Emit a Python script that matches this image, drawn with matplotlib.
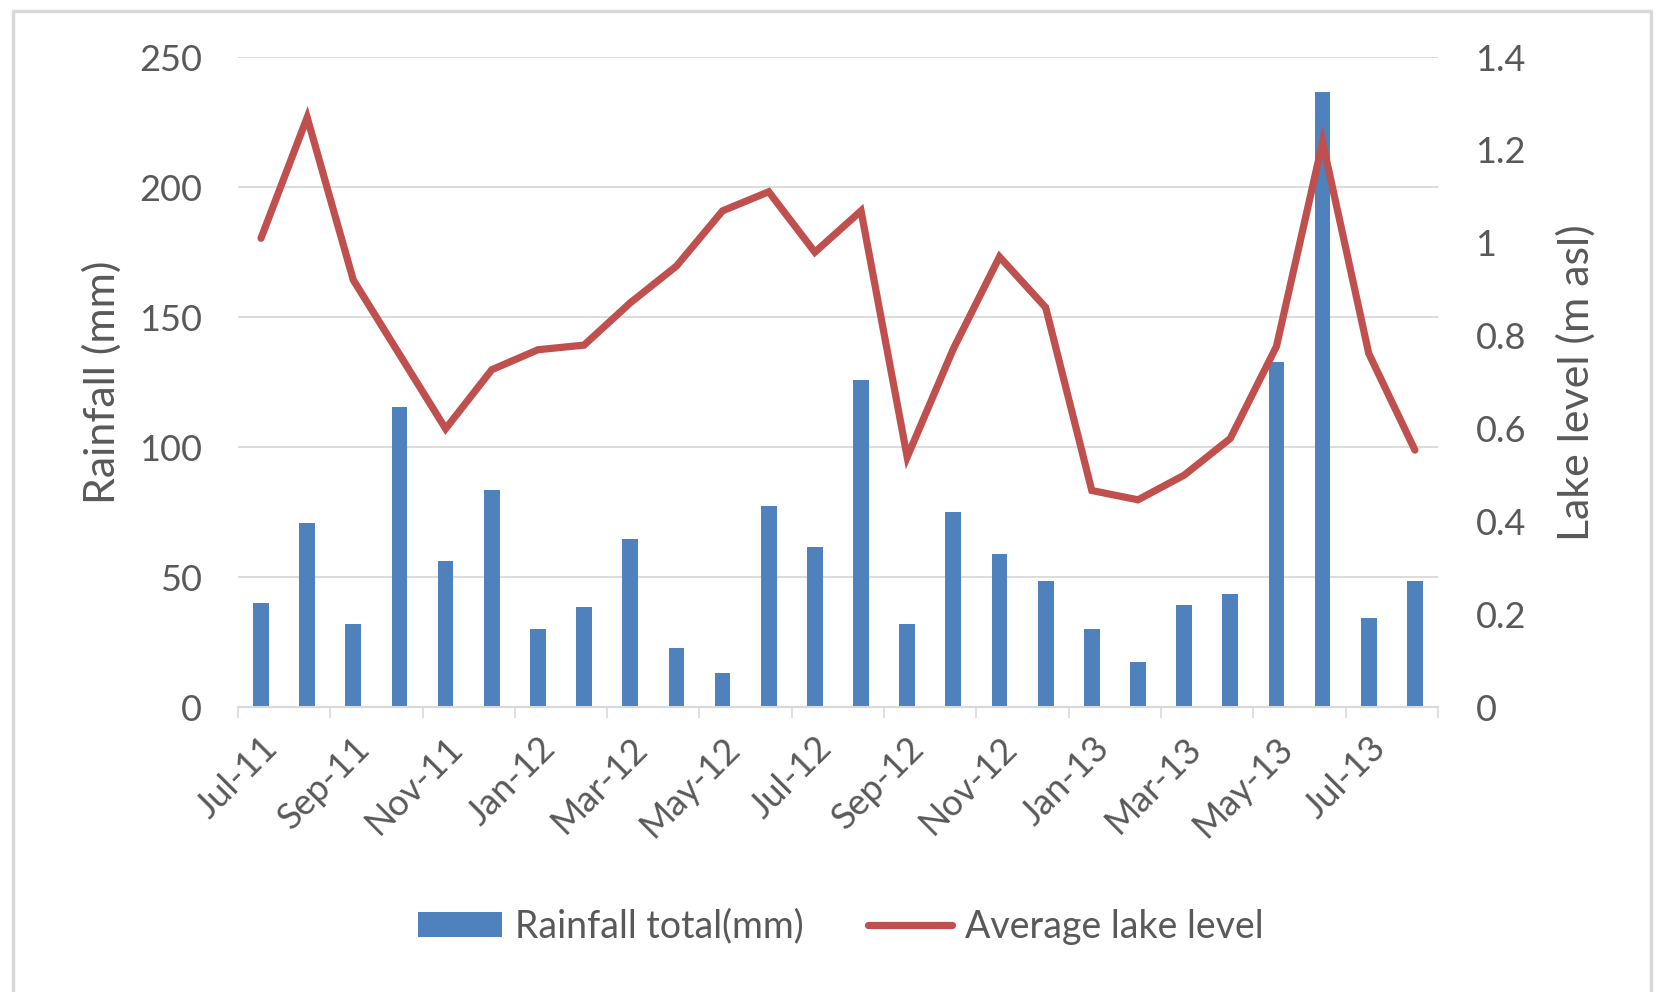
"""Rainfall totals (bars) and average lake level (line), Jul-11 to Aug-13."""

import matplotlib

matplotlib.use("Agg")
import matplotlib.pyplot as plt  # noqa: E402
import numpy as np  # noqa: E402

plt.rcParams["font.family"] = ["Lato", "DejaVu Sans"]

months = [
    "Jul-11", "Aug-11", "Sep-11", "Oct-11", "Nov-11", "Dec-11",
    "Jan-12", "Feb-12", "Mar-12", "Apr-12", "May-12", "Jun-12",
    "Jul-12", "Aug-12", "Sep-12", "Oct-12", "Nov-12", "Dec-12",
    "Jan-13", "Feb-13", "Mar-13", "Apr-13", "May-13", "Jun-13",
    "Jul-13", "Aug-13",
]
rainfall_mm = [
    40.3, 70.8, 32.0, 115.6, 56.4, 83.5,
    30.1, 38.7, 64.8, 22.7, 13.3, 77.5,
    61.7, 125.9, 32.0, 75.2, 59.0, 48.8,
    30.1, 17.6, 39.5, 43.8, 132.6, 236.7,
    34.4, 48.8,
]
lake_level = [
    1.01, 1.27, 0.92, 0.76, 0.60, 0.727,
    0.77, 0.78, 0.871, 0.95, 1.069, 1.11,
    0.98, 1.069, 0.539, 0.772, 0.97, 0.861,
    0.467, 0.447, 0.50, 0.579, 0.777, 1.217,
    0.762, 0.554,
]
left_ticks = [0, 50, 100, 150, 200, 250]
right_ticks = [0, 0.2, 0.4, 0.6, 0.8, 1, 1.2, 1.4]
right_labels = ["0", "0.2", "0.4", "0.6", "0.8", "1", "1.2", "1.4"]

BLUE = "#4F81BD"
RED = "#C0504D"
GRID = "#D9D9D9"
TEXT = "#595959"
FS = 26        # tick labels
FS_LABEL = 31  # axis titles
FS_LEG = 27

fig = plt.figure(figsize=(16.58, 9.92), dpi=100)
ax = fig.add_axes([0.1435, 0.2868, 0.7238, 0.6557])
ax2 = ax.twinx()

x = np.arange(len(months))
bars = ax.bar(x, rainfall_mm, width=0.34, color=BLUE, zorder=3, label="Rainfall total(mm)")
line, = ax2.plot(x, lake_level, color=RED, linewidth=5.2, solid_capstyle="round",
                 solid_joinstyle="miter", label="Average lake level")

ax.set_xlim(-0.5, len(months) - 0.5)
ax.set_ylim(0, 250)
ax2.set_ylim(0, 1.4)

ax.set_yticks(left_ticks)
ax.set_yticklabels([str(t) for t in left_ticks])
ax2.set_yticks(right_ticks)
ax2.set_yticklabels(right_labels)

# labels every second month, tick marks on category boundaries
ax.set_xticks(x[::2])
ax.set_xticklabels(months[::2], rotation=45, ha="right", va="top", rotation_mode="anchor")
ax.set_xticks(np.arange(-0.5, len(months), 2), minor=True)
ax.tick_params(axis="x", which="major", length=0, pad=17, labelsize=FS, labelcolor=TEXT)
ax.tick_params(axis="x", which="minor", length=8, width=1.2, color=GRID, direction="out")
ax.tick_params(axis="y", length=0, pad=26, labelsize=FS, labelcolor=TEXT)
ax2.tick_params(axis="y", length=0, pad=27, labelsize=FS, labelcolor=TEXT)

ax.grid(axis="y", color=GRID, linewidth=1.3, zorder=0)
ax.set_axisbelow(True)
for a in (ax, ax2):
    for side in ("top", "left", "right"):
        a.spines[side].set_visible(False)
    a.spines["bottom"].set_color(GRID)
    a.spines["bottom"].set_linewidth(1.5)

ax.set_ylabel("Rainfall (mm)", fontsize=FS_LABEL, color=TEXT, labelpad=12)
ax2.set_ylabel("Lake level (m asl)", fontsize=FS_LABEL, color=TEXT, labelpad=22)

fig.legend(handles=[bars, line], loc="center", bbox_to_anchor=(0.507, 0.066),
           ncol=2, frameon=False, fontsize=FS_LEG, labelcolor=TEXT,
           handlelength=2.25, handleheight=0.68, columnspacing=1.7, handletextpad=0.35)

# light chart-area border (bottom edge runs off the image)
fig.add_artist(plt.Line2D([0.008, 0.008, 0.996, 0.996], [0.0, 0.989, 0.989, 0.0],
                          transform=fig.transFigure, color=GRID, linewidth=2.5))

fig.savefig("out.png", dpi=100)
